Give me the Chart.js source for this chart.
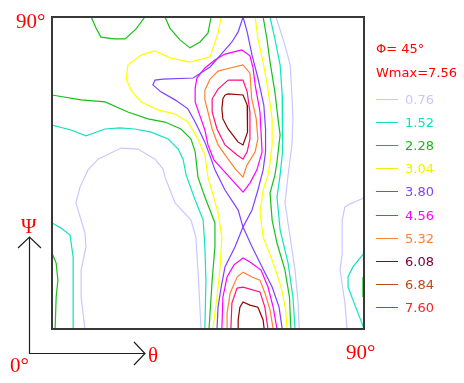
<!DOCTYPE html>
<html>
<head>
<meta charset="utf-8">
<script src="https://cdn.jsdelivr.net/npm/chart.js@4/dist/chart.umd.min.js"></script>
<style>
  html, body { margin: 0; padding: 0; background: #fff; }
  #wrap { position: relative; width: 464px; height: 383px; overflow: hidden; }
  #wrap canvas { position: absolute; left: 0; top: 0; }
  .lbl { position: absolute; line-height: 1; white-space: nowrap; }
  .serif { font-family: "Liberation Serif", "DejaVu Serif", serif; font-size: 21px; color: #ff0000; }
  .sans { font-family: "DejaVu Sans", sans-serif; font-size: 13px; }
  .key { position: absolute; left: 376px; width: 22px; height: 0; border-top: 1.5px solid; }
</style>
</head>
<body>
<div id="wrap">
  <canvas id="odf" width="464" height="383"></canvas>
</div>
<script>
// contour levels and their colours (plot lines / legend entries)
const levels = [0.76, 1.52, 2.28, 3.04, 3.80, 4.56, 5.32, 6.08, 6.84, 7.60];
const lineColors = ["#c8c8ff", "#10e4c0", "#18c018", "#ffff00", "#8040ff", "#ff00ff", "#ff8030", "#ff1080", "#900000", "#ff0000"];
const legendColors = ["#c8c8ff", "#10e0c0", "#18b818", "#f0f000", "#8040ff", "#ff00ff", "#ff8030", "#800040", "#c04818", "#ff2020"];
const phiLabel = "\u03a6= 45\u00b0";
const wmaxLabel = "Wmax=7.56";

// contour polylines, [theta, psi] in degrees
const c076 = [
  [[9.5,0],[8.4,9.2],[8.4,17.0],[9.8,23.7],[9.5,27.7],[6.9,36.4],[8.1,41.0],[10.4,45.9],[13.3,49.0],[19.9,52.2],[24.8,51.9],[29.7,49.0],[32.0,46.2],[32.6,43.8],[35.5,36.4],[40.1,31.4],[41.5,26.5],[42.1,17.0],[43.0,0]],
  [[64.6,90],[67.2,81.9],[68.7,76.2],[69.2,67.5],[69.5,60.6],[69.2,53.1],[68.1,44.4],[67.2,36.4],[68.7,26.5],[70.1,17.0],[71.0,7.5],[71.3,0]],
  [[90,37.8],[86.0,36.1],[84.5,35.2],[83.7,31.4],[83.7,21.9],[83.1,17.0],[84.5,7.5],[85.1,0]]
];
const c152 = [
  [[0,58.8],[5.5,57.4],[9.8,55.7],[15.3,57.7],[19.6,58.0],[23.9,57.7],[28.6,56.8],[33.5,54.8],[36.4,51.9],[37.8,49.0],[38.7,44.4],[41.3,37.2],[43.6,31.4],[44.1,23.7],[44.4,14.1],[44.1,0]],
  [[62.9,90],[64.3,83.7],[65.8,76.2],[66.4,67.5],[66.6,59.7],[66.4,51.1],[65.8,44.4],[64.9,38.1],[65.8,28.6],[68.1,19.0],[69.5,9.2],[70.1,0]],
  [[0,30.6],[2.6,29.1],[5.2,27.1],[6.1,20.8],[6.1,12.1],[6.1,0]],
  [[90,21.9],[86.8,17.9],[85.4,15.0],[85.4,12.1],[86.8,8.4],[89.4,1.7],[90,0]]
];
const c228 = [
  [[11.3,90],[12.7,86.8],[14.1,84.2],[17.9,83.7],[21.1,83.7],[24.2,86.5],[26.8,90]],
  [[32.6,90],[34.0,86.8],[36.9,83.4],[39.8,81.1],[42.7,82.8],[45.0,85.4],[45.9,90]],
  [[0,67.5],[8.4,66.1],[15.3,65.5],[21.9,62.6],[27.7,60.6],[32.6,59.7],[37.2,57.7],[40.1,54.8],[41.3,51.1],[42.1,43.8],[44.1,38.1],[47.0,30.6],[47.0,23.7],[46.2,14.1],[45.3,0]],
  [[60.9,90],[62.0,83.7],[62.9,77.0],[64.3,68.4],[65.2,60.6],[65.8,56.0],[64.9,48.2],[64.3,44.4],[62.9,39.2],[63.5,31.4],[64.9,24.8],[67.2,17.0],[68.5,9.2],[68.9,0]],
  [[0,21.9],[1.2,19.0],[1.7,14.1],[1.2,9.2],[0.9,0]],
  [[89.7,15.0],[89.7,9.2]]
];
const c304 = [
  [[48.8,90],[47.9,85.4],[45.6,78.5],[39.8,77.0],[34.0,78.2],[29.7,80.2],[25.7,79.0],[21.9,76.2],[21.4,72.1],[22.8,68.9],[25.7,65.5],[30.6,63.2],[35.5,62.0],[39.2,59.7],[42.1,54.8],[44.1,50.2],[45.0,43.8],[47.9,33.5],[49.0,26.5],[48.5,17.9],[47.6,9.2],[46.4,0]],
  [[58.6,90],[59.4,83.7],[60.9,77.0],[62.3,69.2],[63.5,60.6],[63.5,53.1],[62.9,48.2],[62.3,44.4],[60.9,40.1],[60.0,33.5],[60.9,26.5],[63.5,19.9],[66.1,12.1],[67.4,5.5],[67.8,0]]
];
const c380 = [
  [[55.1,90],[53.7,85.7],[51.9,82.8],[49.9,80.5],[45.6,75.6],[40.7,72.4],[32.0,72.1],[29.7,71.8],[29.1,70.4],[31.4,68.4],[35.5,66.1],[39.2,63.5],[41.3,59.7],[42.7,56.8],[44.1,53.9],[45.6,49.9],[47.0,45.9],[49.9,40.1],[53.7,34.3],[55.1,29.4],[57.7,34.3],[59.4,40.1],[60.9,45.9],[61.6,51.1],[61.6,57.7],[61.1,64.6],[59.4,72.4],[57.7,79.0],[56.3,85.7],[55.1,90]],
  [[47.6,0],[47.9,6.3],[48.8,12.1],[49.9,17.9],[52.8,23.7],[55.1,29.4],[57.7,23.7],[60.6,17.9],[63.5,12.1],[65.5,6.3],[66.4,0]]
];
const c456 = [
  [[54.8,80.5],[57.1,78.8],[58.0,75.3],[58.6,70.4],[60.0,62.6],[60.3,56.8],[60.6,51.1],[59.1,45.9],[57.1,42.1],[55.1,39.5],[51.9,43.0],[49.3,45.9],[46.7,48.8],[45.0,53.1],[44.1,57.4],[42.7,61.4],[41.3,65.5],[41.3,69.5],[41.8,72.4],[44.1,75.3],[47.0,77.6],[49.9,79.3],[54.8,80.5]],
  [[49.0,0],[49.3,9.2],[50.5,15.0],[52.5,18.5],[55.1,20.5],[57.1,19.3],[60.3,17.0],[62.3,12.1],[63.8,6.3],[64.9,0]]
];
const c532 = [
  [[55.1,76.2],[57.1,73.8],[57.6,66.5],[58.9,60.7],[59.4,54.9],[58.6,51.1],[56.2,47.2],[55.1,43.8],[53.1,45.9],[50.8,49.0],[47.9,53.1],[46.2,57.7],[45.0,62.6],[44.1,66.1],[44.1,68.9],[45.6,72.1],[47.9,74.4],[51.4,75.3],[55.1,76.2]],
  [[50.5,0],[50.5,4.6],[51.4,10.4],[53.4,15.0],[55.1,16.4],[57.7,15.0],[60.0,14.1],[61.4,10.4],[62.9,5.5],[63.8,0]]
];
const c608 = [
  [[50.8,71.8],[55.1,71.8],[56.3,68.4],[57.1,62.6],[57.1,54.8],[56.3,51.1],[55.1,49.0],[53.4,50.2],[49.9,53.1],[47.6,57.7],[46.2,62.6],[46.2,66.4],[47.9,69.2],[50.8,71.8]],
  [[51.6,0],[51.9,7.5],[53.4,11.8],[55.1,12.1],[60.0,10.7],[61.4,6.3],[62.3,0]]
];
const c684 = [
  [[49.9,67.5],[50.8,67.8],[55.1,67.5],[56.3,64.6],[56.5,60.6],[56.3,56.8],[55.1,53.1],[53.7,53.9],[50.8,57.7],[49.3,60.6],[49.0,63.5],[49.3,66.4],[49.9,67.5]],
  [[53.7,0],[53.7,2.6],[54.2,6.3],[55.1,7.8],[57.1,6.9],[59.4,6.3],[60.9,2.6],[61.2,0]]
];
const contours = [c076, c152, c228, c304, c380, c456, c532, c608, c684];

const datasets = [];
contours.forEach((lines, i) => {
  lines.forEach((pts) => {
    datasets.push({
      label: levels[i].toFixed(2),
      data: pts.map((p) => ({ x: p[0], y: p[1] })),
      borderColor: lineColors[i],
      borderWidth: 1.2,
      showLine: true,
      pointRadius: 0,
      tension: 0,
      fill: false,
    });
  });
});

// frame and the two axis arrows
const frameAndArrows = {
  id: "frameAndArrows",
  afterDraw(chart) {
    const { ctx, chartArea } = chart;
    ctx.save();
    ctx.strokeStyle = "#383838";
    ctx.lineWidth = 2;
    ctx.strokeRect(chartArea.left, chartArea.top, chartArea.right - chartArea.left, chartArea.bottom - chartArea.top);

    ctx.strokeStyle = "#202020";
    ctx.lineWidth = 1.2;
    ctx.beginPath();
    ctx.moveTo(29.5, 237); ctx.lineTo(29.5, 353.5); ctx.lineTo(145, 353.5);
    ctx.moveTo(18, 248); ctx.lineTo(29.5, 237); ctx.lineTo(41, 248);
    ctx.moveTo(134, 342); ctx.lineTo(145, 353.5); ctx.lineTo(134, 365);
    ctx.stroke();
    ctx.restore();
  },
};

new Chart(document.getElementById("odf"), {
  type: "scatter",
  data: { datasets },
  options: {
    responsive: false,
    animation: false,
    layout: { padding: { left: 52, top: 17, right: 100, bottom: 54 } },
    scales: {
      x: { type: "linear", min: 0, max: 90, display: false },
      y: { type: "linear", min: 0, max: 90, display: false },
    },
    plugins: { legend: { display: false }, tooltip: { enabled: false } },
  },
  plugins: [frameAndArrows],
});

// text labels
const wrap = document.getElementById("wrap");
function addLabel(text, cls, left, top, color) {
  const d = document.createElement("div");
  d.className = "lbl " + cls;
  d.textContent = text;
  d.style.left = left + "px";
  d.style.top = top + "px";
  if (color) d.style.color = color;
  wrap.appendChild(d);
}
addLabel("90\u00b0", "serif", 16, 11);
addLabel("\u03a8", "serif", 21, 216);
addLabel("\u03b8", "serif", 148, 345);
addLabel("0\u00b0", "serif", 10, 355);
addLabel("90\u00b0", "serif", 346, 342);
addLabel(phiLabel, "sans", 376, 42, "#ff0000");
addLabel(wmaxLabel, "sans", 376, 66, "#ff0000");
levels.forEach((v, i) => {
  const top = 93 + i * 23.1;
  addLabel(v.toFixed(2), "sans", 405, top, legendColors[i]);
  const k = document.createElement("div");
  k.className = "key";
  k.style.top = (top + 6) + "px";
  k.style.borderTopColor = legendColors[i];
  wrap.appendChild(k);
});
</script>
</body>
</html>
